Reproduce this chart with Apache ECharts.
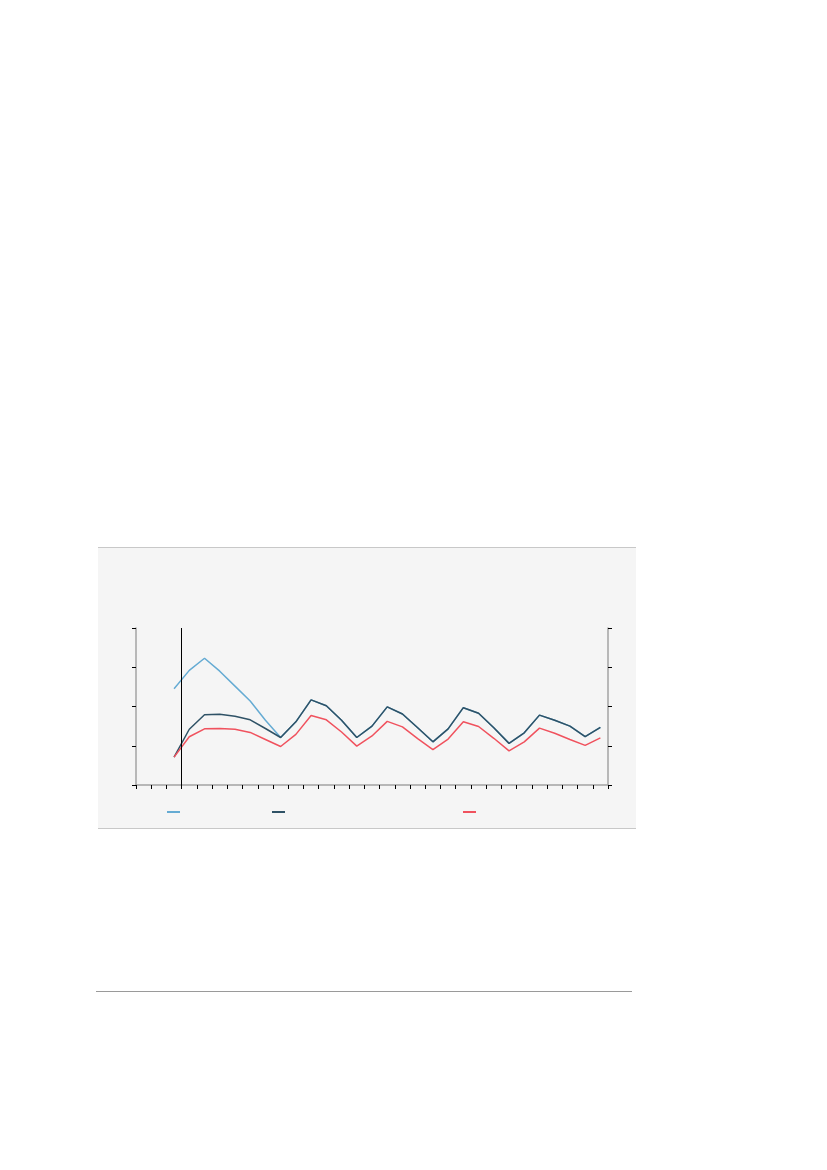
<!DOCTYPE html>
<html>
<head>
<meta charset="utf-8">
<script src="https://cdn.jsdelivr.net/npm/echarts@6/dist/echarts.min.js"></script>
<style>
  html, body { margin: 0; padding: 0; background: #fff; }
  #page { position: relative; width: 827px; height: 1170px; }
  #box {
    position: absolute; left: 98px; top: 547px; width: 538px; height: 280px;
    background: #f5f5f5; border-top: 1px solid #c8c8c8; border-bottom: 1px solid #c8c8c8;
  }
  #chart { position: absolute; left: 0; top: 0; width: 538px; height: 280px; }
  #rule { position: absolute; left: 96px; top: 991px; width: 536px; height: 0; border-top: 1px solid #9a9a9a; }
</style>
</head>
<body>
<div id="page">
  <div id="box"><div id="chart"></div></div>
  <div id="rule"></div>
</div>
<script>
// 类目（31 个刻度区间）
var categories = ['1', '2', '3', '4', '5', '6', '7', '8', '9', '10', '11', '12', '13', '14', '15', '16',
    '17', '18', '19', '20', '21', '22', '23', '24', '25', '26', '27', '28', '29', '30', '31'];

// 浅蓝线（后段与深色线重合）
var seriesBlue = [null, null, 2.45, 2.92, 3.23, 2.90, 2.52, 2.14, 1.65, 1.21, 1.61, 2.17, 2.02, 1.65, 1.21,
    1.50, 1.99, 1.81, 1.46, 1.10, 1.43, 1.97, 1.83, 1.46, 1.06, 1.33, 1.78, 1.65, 1.50, 1.23, 1.47];

// 深色线
var seriesDark = [null, null, 0.71, 1.42, 1.79, 1.80, 1.75, 1.66, 1.44, 1.21, 1.61, 2.17, 2.02, 1.65, 1.21,
    1.50, 1.99, 1.81, 1.46, 1.10, 1.43, 1.97, 1.83, 1.46, 1.06, 1.33, 1.78, 1.65, 1.50, 1.23, 1.47];

// 红线
var seriesRed = [null, null, 0.71, 1.23, 1.43, 1.44, 1.42, 1.34, 1.16, 0.98, 1.29, 1.77, 1.66, 1.35, 0.99,
    1.25, 1.62, 1.48, 1.18, 0.90, 1.17, 1.61, 1.49, 1.19, 0.87, 1.10, 1.45, 1.32, 1.16, 1.01, 1.20];

// 竖线位置（类目边界）
var markerAt = [3];

var seriesNames = ['A', 'B', 'C'];
var colors = ['#65abd3', '#2f5266', '#f0525e'];

var chart = echarts.init(document.getElementById('chart'));

var yAxisBase = {
    type: 'value',
    min: 0,
    max: 4,
    interval: 1,
    axisLine: { show: true, lineStyle: { color: '#a3a3a3', width: 1.5 } },
    axisTick: { show: true, length: 4, lineStyle: { color: '#000', width: 1 } },
    axisLabel: { show: false },
    splitLine: { show: false }
};

var option = {
    animation: false,
    backgroundColor: 'transparent',
    grid: { left: 38, top: 80, width: 472, height: 157 },
    xAxis: [{
        type: 'category',
        data: categories,
        boundaryGap: true,
        axisLine: { show: true, lineStyle: { color: '#a3a3a3', width: 1.5 } },
        axisTick: { show: true, interval: 0, length: 4, lineStyle: { color: '#000', width: 1 } },
        axisLabel: { show: false },
        splitLine: { show: false }
    }, {
        type: 'value',
        min: 0,
        max: categories.length,
        show: false
    }],
    yAxis: [
        Object.assign({}, yAxisBase, { position: 'left' }),
        Object.assign({}, yAxisBase, { position: 'right' })
    ],
    legend: [
        { data: [seriesNames[0]], left: 69, top: 263 },
        { data: [seriesNames[1]], left: 174, top: 263 },
        { data: [seriesNames[2]], left: 365, top: 263 }
    ].map(function (l) {
        return Object.assign(l, {
            padding: 0,
            icon: 'rect', itemWidth: 13, itemHeight: 2,
            formatter: function () { return ''; },
            textStyle: { fontSize: 10 }, selectedMode: false
        });
    }),
    series: [{
        name: seriesNames[0],
        type: 'line',
        data: seriesBlue,
        color: colors[0],
        symbol: 'none',
        lineStyle: { width: 1.5 }
    }, {
        name: seriesNames[1],
        type: 'line',
        data: seriesDark,
        color: colors[1],
        symbol: 'none',
        lineStyle: { width: 1.5 }
    }, {
        name: seriesNames[2],
        type: 'line',
        data: seriesRed,
        color: colors[2],
        symbol: 'none',
        lineStyle: { width: 1.5 }
    }, {
        // 竖线
        type: 'line',
        xAxisIndex: 1,
        data: [],
        markLine: {
            silent: true,
            symbol: ['none', 'none'],
            label: { show: false },
            lineStyle: { color: '#000', width: 1, type: 'solid' },
            data: markerAt.map(function (v) { return { xAxis: v }; })
        }
    }]
};

chart.setOption(option);
</script>
</body>
</html>
